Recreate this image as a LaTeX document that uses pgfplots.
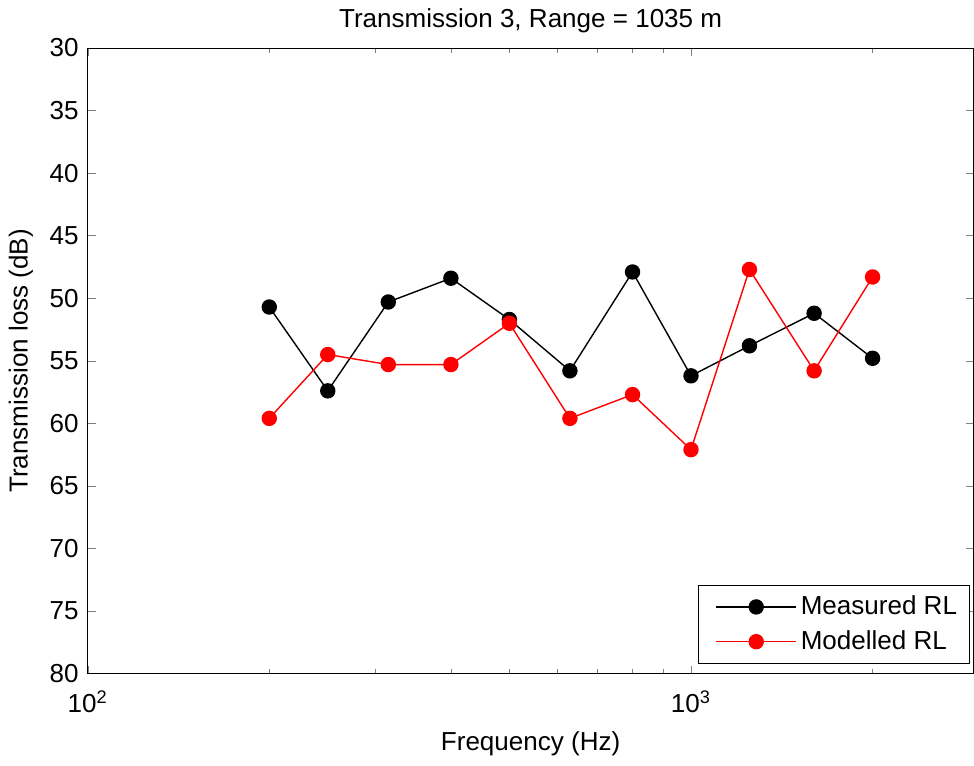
\documentclass[border=0pt]{standalone}
\usepackage{fontspec}
\setmainfont{Liberation Sans}
\usepackage{pgfplots}
\pgfplotsset{compat=1.18}
\begin{document}
\fontsize{13}{15}\selectfont
\begin{tikzpicture}
\begin{axis}[
  scale only axis, width=442.5pt, height=312.5pt,
  xmode=log, xmin=100, xmax=2940, ymin=30, ymax=80, y dir=reverse,
  ytick={30,35,...,80},
  xtick={100,1000}, xticklabels={10\textsuperscript{2},10\textsuperscript{3}},
  minor xtick={200,300,400,500,600,700,800,900,2000},
  /pgf/number format/assume math mode=true,
  tick align=inside, major tick length=4pt, minor tick length=2.5pt,
  ticklabel style={font=\fontsize{13}{15}\selectfont},
  xticklabel style={yshift=-4pt},
  label style={font=\fontsize{13}{15}\selectfont},
  xlabel style={yshift=-1pt},
  ylabel style={yshift=-0.5pt},
  title style={font=\fontsize{13}{15}\selectfont, yshift=-3pt},
  title={Transmission 3, Range = 1035 m},
  xlabel={Frequency (Hz)}, ylabel={Transmission loss (dB)},
  axis line style={line width=0.5pt},
  legend cell align=left,
  legend style={at={(0.9955,0.016)}, anchor=south east, draw=black, line width=0.5pt,
    font=\fontsize{13}{15}\selectfont, inner xsep=4pt, inner ysep=3pt, row sep=2pt},
  legend image code/.code={\path (-4.5pt,0pt); \draw[mark repeat=2,mark phase=2,#1] plot coordinates {(0cm,0cm) (0.7cm,0cm) (1.4cm,0cm)};},
]
\addplot[black, line width=0.7pt, mark=*, mark size=3.5pt] coordinates {
(200,50.7) (250,57.4) (315,50.3) (400,48.4) (500,51.7) (630,55.8) (800,47.9) (1000,56.2) (1250,53.8) (1600,51.2) (2000,54.8)};
\addlegendentry{Measured RL}
\addplot[red, line width=0.7pt, mark=*, mark size=3.5pt] coordinates {
(200,59.6) (250,54.5) (315,55.3) (400,55.3) (500,52.0) (630,59.6) (800,57.7) (1000,62.1) (1250,47.7) (1600,55.8) (2000,48.3)};
\addlegendentry{Modelled RL}
\end{axis}
\end{tikzpicture}
\end{document}
